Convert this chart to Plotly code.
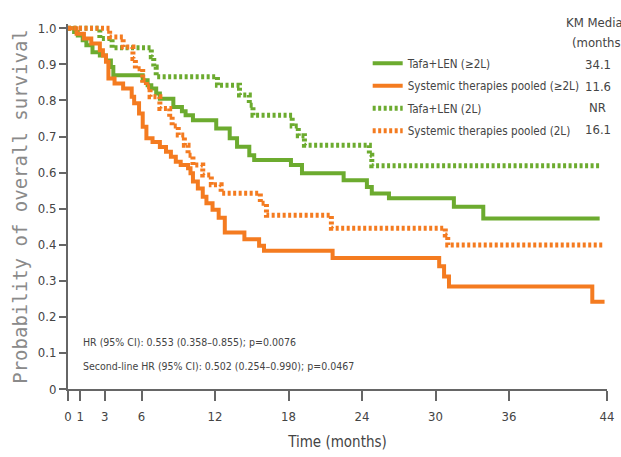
import plotly.graph_objects as go

# ---- data ----
green_solid_t = [0, 0.5, 0.8, 1.2, 1.5, 2.0, 2.6, 3.1, 3.5, 3.7, 6.1, 6.5, 6.8, 7.2, 7.5, 8.6, 9.3, 9.6, 10.2,
                 12.1, 13.2, 13.8, 14.8, 15.2, 18.2, 19.1, 22.5, 24.4, 24.8, 26.2, 31.5, 33.9, 43.4]
green_solid_s = [1.0, 0.99, 0.98, 0.967, 0.953, 0.934, 0.925, 0.911, 0.893, 0.870, 0.856, 0.842, 0.833, 0.819,
                 0.805, 0.782, 0.770, 0.759, 0.745, 0.722, 0.695, 0.672, 0.648, 0.635, 0.621, 0.598, 0.579,
                 0.560, 0.542, 0.529, 0.505, 0.473, 0.473]

orange_solid_t = [0, 0.7, 1.3, 1.9, 2.6, 2.85, 3.1, 3.3, 3.8, 4.5, 5.2, 5.4, 5.8, 6.1, 6.4, 6.9, 7.5, 8.0, 8.4,
                  8.8, 9.2, 9.8, 10.0, 10.2, 10.6, 11.0, 11.3, 11.8, 12.3, 12.8, 14.4, 15.6, 16.0, 21.6, 30.3,
                  30.7, 31.1, 42.8, 43.8]
orange_solid_s = [1.0, 0.985, 0.972, 0.958, 0.939, 0.925, 0.907, 0.861, 0.847, 0.833, 0.810, 0.792, 0.764,
                  0.727, 0.695, 0.685, 0.671, 0.658, 0.644, 0.630, 0.621, 0.612, 0.598, 0.575, 0.556, 0.533,
                  0.515, 0.497, 0.475, 0.434, 0.415, 0.397, 0.383, 0.363, 0.340, 0.312, 0.284, 0.242, 0.242]

green_dash_t = [0, 2.6, 3.6, 6.8, 7.0, 7.2, 12.2, 14.0, 14.8, 15.1, 18.3, 18.8, 19.3, 24.6, 24.8, 43.4]
green_dash_s = [1.0, 0.972, 0.946, 0.921, 0.893, 0.866, 0.842, 0.815, 0.787, 0.759, 0.729, 0.702, 0.676,
                0.648, 0.619, 0.619]

orange_dash_t = [0, 3.4, 4.5, 5.3, 5.5, 6.1, 6.4, 6.7, 7.5, 8.3, 8.5, 9.0, 9.5, 9.8, 10.2, 11.0, 11.7, 12.5,
                 15.7, 16.2, 21.5, 30.8, 31.0, 43.8]
orange_dash_s = [1.0, 0.976, 0.948, 0.916, 0.888, 0.856, 0.838, 0.810, 0.778, 0.755, 0.729, 0.704, 0.676,
                 0.648, 0.621, 0.593, 0.566, 0.543, 0.515, 0.482, 0.446, 0.427, 0.399, 0.399]

series_names = ["Tafa+LEN (≥2L)", "Systemic therapies pooled (≥2L)", "Tafa+LEN (2L)",
                "Systemic therapies pooled (2L)"]
km_medians = ["34.1", "11.6", "NR", "16.1"]
km_header = ["KM Median", "(months)"]

x_ticks = [0, 1, 3, 6, 12, 18, 24, 30, 36, 44]
y_ticks = [0, 0.1, 0.2, 0.3, 0.4, 0.5, 0.6, 0.7, 0.8, 0.9, 1.0]
y_tick_labels = ["0", "0.1", "0.2", "0.3", "0.4", "0.5", "0.6", "0.7", "0.8", "0.9", "1.0"]

hr_lines = ["HR (95% CI): 0.553 (0.358–0.855); p=0.0076",
            "Second-line HR (95% CI): 0.502 (0.254–0.990); p=0.0467"]

GREEN = "#6cab2f"
ORANGE = "#f47b20"
NARROW = "DejaVu Sans Condensed, Liberation Sans Narrow, sans-serif"
TXT = "#444444"

fig = go.Figure()
styles = [
    (green_solid_t, green_solid_s, GREEN, "solid", 4),
    (orange_solid_t, orange_solid_s, ORANGE, "solid", 4),
    (green_dash_t, green_dash_s, GREEN, "3px,2.5px", 5),
    (orange_dash_t, orange_dash_s, ORANGE, "3px,2.5px", 5),
]
for i, (t, s, col, dash, w) in enumerate(styles):
    fig.add_trace(go.Scatter(x=t, y=s, mode="lines", line=dict(color=col, width=w, dash=dash, shape="hv"),
                             name=series_names[i], legendgroup=f"g{i}", hoverinfo="skip"))

axis_col = "#666666"
fig.update_layout(
    width=621, height=457,
    margin=dict(l=68, r=14, t=24, b=68, autoexpand=False),
    paper_bgcolor="white", plot_bgcolor="white",
    font=dict(family=NARROW, color=TXT, size=13),
    showlegend=True,
    legend=dict(x=0.556, y=0.932, xanchor="left", yanchor="top", bgcolor="rgba(0,0,0,0)",
                font=dict(family=NARROW, size=11.6, color=TXT), itemwidth=30,
                tracegroupgap=3.5, itemclick=False),
    xaxis=dict(range=[0, 44], tickvals=x_ticks, ticks="outside", ticklen=10, tickwidth=2,
               tickcolor=axis_col, showline=True, linecolor=axis_col, linewidth=2,
               showgrid=False, zeroline=False, tickfont=dict(size=13, color=TXT),
               ticklabelstandoff=4,
               title=dict(text="Time (months)", font=dict(size=15, color=TXT), standoff=14)),
    yaxis=dict(range=[0, 1.012], tickvals=y_ticks, ticktext=y_tick_labels, ticks="outside", ticklen=7,
               tickwidth=2, tickcolor=axis_col, showline=True, linecolor=axis_col, linewidth=2,
               showgrid=False, zeroline=False, tickfont=dict(size=13, color=TXT),
               title=dict(text="Probability of overall survival",
                          font=dict(family="DejaVu Sans Mono", size=19, color="#8a8a8a"), standoff=5)),
)

# KM median column header and values
for txt, yy in zip(km_header, [1.005, 0.948]):
    fig.add_annotation(x=(598 - 68) / 539, xref="paper", y=yy, yref="paper", text=txt,
                       showarrow=False, xanchor="center", yanchor="middle",
                       font=dict(family=NARROW, size=13, color=TXT))
for txt, yy in zip(km_medians, [0.900, 0.839, 0.781, 0.720]):
    fig.add_annotation(x=0.983, xref="paper", y=yy, yref="y", text=txt, showarrow=False,
                       xanchor="center", yanchor="middle", font=dict(family=NARROW, size=13, color=TXT))

for txt, yy in zip(hr_lines, [0.129, 0.063]):
    fig.add_annotation(x=1.09, xref="x", y=yy, yref="y", text=txt, showarrow=False, xanchor="left",
                       yanchor="middle", font=dict(family=NARROW, size=10.5, color=TXT))

fig.write_html("out.html")
